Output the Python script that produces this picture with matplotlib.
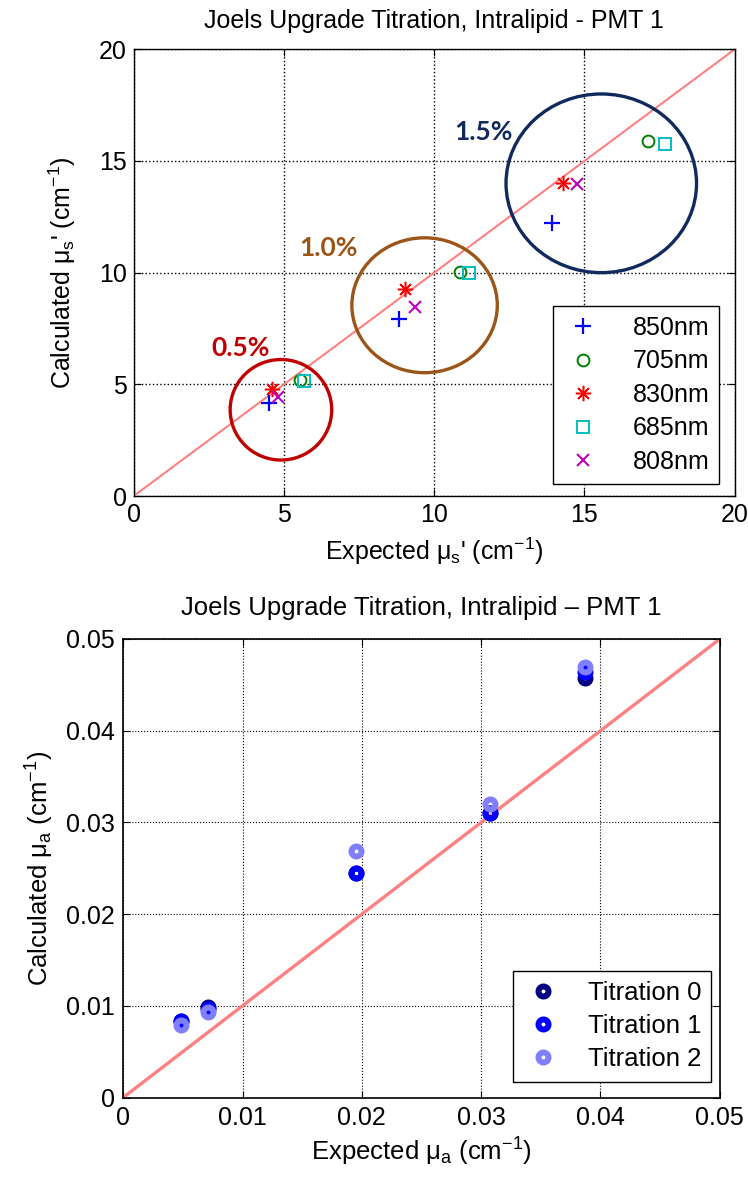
import matplotlib
matplotlib.use("Agg")
import matplotlib.pyplot as plt
from matplotlib.patches import Ellipse

plt.rcParams['font.family'] = ['Liberation Sans', 'DejaVu Sans']
plt.rcParams['mathtext.fontset'] = 'custom'
plt.rcParams['mathtext.rm'] = 'Liberation Sans'
plt.rcParams['mathtext.it'] = 'Liberation Sans:italic'

# ---------------- Top chart data (mu_s') ----------------
wl_labels = ['850nm', '705nm', '830nm', '685nm', '808nm']
exp_850 = [4.51, 8.83, 13.93]
calc_850 = [4.15, 7.91, 12.24]
exp_705 = [5.53, 10.86, 17.13]
calc_705 = [5.19, 10.04, 15.90]
exp_830 = [4.61, 9.03, 14.30]
calc_830 = [4.78, 9.27, 14.03]
exp_685 = [5.66, 11.17, 17.68]
calc_685 = [5.16, 9.97, 15.75]
exp_808 = [4.79, 9.36, 14.74]
calc_808 = [4.42, 8.48, 13.96]
ref_line_top = [0, 20]
top_ticks = [0, 5, 10, 15, 20]

conc_labels = ['0.5%', '1.0%', '1.5%']

# ---------------- Bottom chart data (mu_a) ----------------
exp_mua = [0.00485, 0.00708, 0.01953, 0.03078, 0.03873]
titr_labels = ['Titration 0', 'Titration 1', 'Titration 2']
titr0 = [0.0083, 0.0099, 0.0245, 0.0310, 0.0457]
titr1 = [0.0083, 0.0096, 0.0245, 0.0310, 0.0464]
titr2 = [0.0079, 0.0093, 0.0269, 0.0320, 0.0470]
ref_line_bot = [0, 0.05]
bot_ticks = [0, 0.01, 0.02, 0.03, 0.04, 0.05]
bot_ticklabels = ['0', '0.01', '0.02', '0.03', '0.04', '0.05']

W, H = 748, 1180
FS = 18
fig = plt.figure(figsize=(W / 100, H / 100), dpi=100)

# ---------------- Top axes ----------------
ax1 = fig.add_axes([133.7 / W, (H - 496) / H, 601 / W, 446.7 / H])
ax1.plot(ref_line_top, ref_line_top, color='#FF8080', lw=1.5, zorder=2)
ax1.plot(exp_850, calc_850, ls='none', marker='+', color='#0000FF', ms=12, mew=1.6,
         label=wl_labels[0], zorder=3)
ax1.plot(exp_705, calc_705, ls='none', marker='o', color='#008000', mfc='none', ms=8.5, mew=1.4,
         label=wl_labels[1], zorder=3)
ax1.plot(exp_830, calc_830, ls='none', marker=(8, 2, 0), color='#FF0000', ms=11, mew=1.1,
         label=wl_labels[2], zorder=3)
ax1.plot(exp_685, calc_685, ls='none', marker='s', color='#00BFBF', mfc='none', ms=8.5, mew=1.4,
         label=wl_labels[3], zorder=3)
ax1.plot(exp_808, calc_808, ls='none', marker='x', color='#BF00BF', ms=8.5, mew=1.5,
         label=wl_labels[4], zorder=3)

circ_specs = [((4.90, 3.86), 1.69, 2.25, '#C00000', (3.54, 6.64)),
              ((9.68, 8.54), 2.42, 3.02, '#9C5518', (6.47, 11.09)),
              ((15.56, 14.00), 3.17, 4.00, '#102A5E', (11.63, 16.31))]
for (c, rx, ry, col, tpos), lab in zip(circ_specs, conc_labels):
    ax1.add_patch(Ellipse(c, 2 * rx, 2 * ry, fill=False, ec=col, lw=2.4, zorder=4))
    ax1.text(tpos[0], tpos[1], lab, color=col, fontsize=19, fontweight='bold',
             family=['Lato', 'DejaVu Sans'], ha='center', va='center')

ax1.set_xlim(0, 20)
ax1.set_ylim(0, 20)
ax1.set_xticks(top_ticks)
ax1.set_yticks(top_ticks)
ax1.grid(True, ls=':', color='black', lw=1.0)
ax1.tick_params(direction='in', top=True, right=True, labelsize=FS, length=5, pad=5)
ax1.set_title('Joels Upgrade Titration, Intralipid - PMT 1', fontsize=FS, pad=15)
ax1.set_xlabel("Expected $\\mathregular{\\mu_s}$' (cm$^\\mathregular{-1}$)", fontsize=FS, labelpad=6)
ax1.set_ylabel("Calculated $\\mathregular{\\mu_s}$' (cm$^\\mathregular{-1}$)", fontsize=FS, labelpad=15)
for s in ax1.spines.values():
    s.set_linewidth(1.0)
leg1 = ax1.legend(loc='lower right', bbox_to_anchor=(0.9745, 0.0269), borderaxespad=0,
                  fontsize=FS, fancybox=False, edgecolor='black', framealpha=1,
                  handlelength=1.6, handletextpad=1.2, labelspacing=0.38, borderpad=0.4)
leg1.get_frame().set_linewidth(1.0)

# ---------------- Bottom axes ----------------
ax2 = fig.add_axes([123.2 / W, (H - 1097.5) / H, 596.6 / W, 458.5 / H])
ax2.plot(ref_line_bot, ref_line_bot, color='#FF8080', lw=2.4, zorder=2)
colors_t = ['#000080', '#0000FF', '#8080FF']
for vals, col, lab in zip([titr0, titr1, titr2], colors_t, titr_labels):
    ax2.plot(exp_mua, vals, ls='none', marker='o', mfc='none', mec=col, ms=7.2, mew=4.3,
             label=lab, zorder=3)
ax2.set_xlim(0, 0.05)
ax2.set_ylim(0, 0.05)
ax2.set_xticks(bot_ticks)
ax2.set_yticks(bot_ticks)
ax2.set_xticklabels(bot_ticklabels)
ax2.set_yticklabels(bot_ticklabels)
ax2.grid(True, ls=':', color='black', lw=0.8)
ax2.tick_params(direction='in', top=True, right=True, labelsize=FS, length=5, pad=6)
ax2.set_title('Joels Upgrade Titration, Intralipid \u2013 PMT 1', fontsize=FS + 0.5, pad=17)
ax2.set_xlabel("Expected $\\mathregular{\\mu_a}$ (cm$^\\mathregular{-1}$)", fontsize=FS + 0.5, labelpad=4)
ax2.set_ylabel("Calculated $\\mathregular{\\mu_a}$ (cm$^\\mathregular{-1}$)", fontsize=FS + 0.5, labelpad=7)
for s in ax2.spines.values():
    s.set_linewidth(1.2)
leg2 = ax2.legend(loc='lower right', bbox_to_anchor=(0.986, 0.0345), borderaxespad=0,
                  fontsize=FS + 0.5, fancybox=False, edgecolor='black', framealpha=1,
                  handlelength=1.5, handletextpad=1.0, labelspacing=0.35, borderpad=0.4)
leg2.get_frame().set_linewidth(1.0)

fig.savefig('out.png', dpi=100)
